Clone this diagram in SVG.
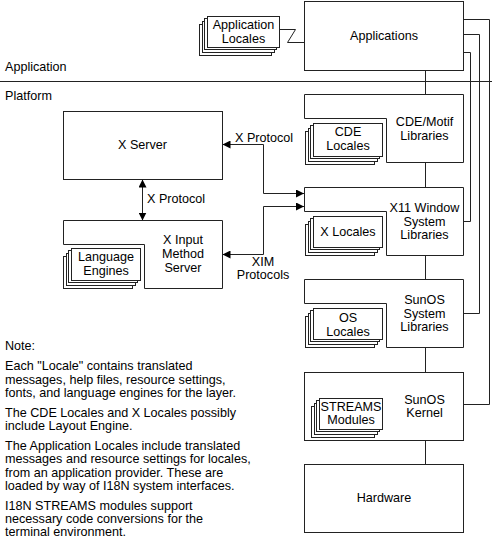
<svg xmlns="http://www.w3.org/2000/svg" width="492" height="538" viewBox="0 0 492 538">
<style>
.box{fill:#fff;stroke:#222;stroke-width:1}
.ln{fill:none;stroke:#222;stroke-width:1}
text{font-family:"Liberation Sans",Arial,sans-serif;font-size:12.6px;fill:#000}
.c{text-anchor:middle}
</style>
<defs>
<marker id="ah" viewBox="0 0 8 8" refX="8" refY="4" markerWidth="8" markerHeight="8" markerUnits="userSpaceOnUse" orient="auto-start-reverse">
<path d="M0,0 L8,4 L0,8 Z" fill="#000"/>
</marker>
</defs>
<rect width="492" height="538" fill="#fff"/>

<g id="layers">
<line class="ln" x1="0" y1="81.5" x2="492" y2="81.5"/>
<text x="5" y="71">Application</text>
<text x="5" y="100">Platform</text>
</g>

<g id="connectors">
<path class="ln" d="M425.5 70.5 V94.5 M425.5 162.5 V187.5 M425.5 255.5 V279.5 M425.5 347.5 V372.5 M425.5 440.5 V464.5"/>
<path class="ln" d="M463.5 19.5 H489.5 V404.5 H463.5"/>
<path class="ln" d="M463.5 34.5 H479.5 V313.5 H463.5"/>
<path class="ln" d="M463.5 52.5 H470.5 V221.5 H463.5"/>
<path class="ln" d="M279.5 29.5 H295.5 L287.5 42.5 H304.5"/>
<path class="ln" d="M222.5 144.5 H263.5 V193.5 H304" marker-start="url(#ah)" marker-end="url(#ah)"/>
<path class="ln" d="M222.5 254.5 H263.5 V206.5 H304" marker-start="url(#ah)" marker-end="url(#ah)"/>
<path class="ln" d="M142.5 179.5 V220.5" marker-start="url(#ah)" marker-end="url(#ah)"/>
<text x="235" y="142">X Protocol</text>
<text x="147" y="203">X Protocol</text>
<text class="c" x="263" y="266">XIM</text>
<text class="c" x="263" y="279">Protocols</text>
</g>

<g id="applications">
<rect class="box" x="304.5" y="1.5" width="159" height="69"/>
<text class="c" x="384" y="40">Applications</text>
</g>

<g id="application-locales">
<rect class="box" x="199.5" y="24.5" width="72" height="31"/>
<rect class="box" x="202.5" y="21.5" width="72" height="31"/>
<rect class="box" x="204.5" y="18.5" width="72" height="31"/>
<rect class="box" x="207.5" y="16.5" width="72" height="31"/>
<text class="c" x="243.5" y="29">Application</text>
<text class="c" x="243.5" y="42.5">Locales</text>
</g>

<g id="cde-motif">
<path class="box" d="M304.5 94.5 H463.5 V162.5 H386.5 V118.5 H304.5 Z"/>
<text class="c" x="424.5" y="126">CDE/Motif</text>
<text class="c" x="424.5" y="139.5">Libraries</text>
</g>

<g id="cde-locales">
<rect class="box" x="305.5" y="131.5" width="69" height="33"/>
<rect class="box" x="308.5" y="128.5" width="69" height="33"/>
<rect class="box" x="310.5" y="125.5" width="69" height="33"/>
<rect class="box" x="313.5" y="123.5" width="69" height="33"/>
<text class="c" x="348" y="136">CDE</text>
<text class="c" x="348" y="150">Locales</text>
</g>

<g id="x11">
<path class="box" d="M304.5 187.5 H463.5 V255.5 H386.5 V211.5 H304.5 Z"/>
<text class="c" x="424.5" y="212">X11 Window</text>
<text class="c" x="424.5" y="225.5">System</text>
<text class="c" x="424.5" y="239">Libraries</text>
</g>

<g id="x-locales">
<rect class="box" x="305.5" y="224.5" width="69" height="31"/>
<rect class="box" x="308.5" y="221.5" width="69" height="31"/>
<rect class="box" x="310.5" y="218.5" width="69" height="31"/>
<rect class="box" x="313.5" y="216.5" width="69" height="31"/>
<text class="c" x="348" y="236">X Locales</text>
</g>

<g id="sunos-libraries">
<path class="box" d="M304.5 279.5 H463.5 V347.5 H386.5 V303.5 H304.5 Z"/>
<text class="c" x="424.5" y="304">SunOS</text>
<text class="c" x="424.5" y="317.5">System</text>
<text class="c" x="424.5" y="331">Libraries</text>
</g>

<g id="os-locales">
<rect class="box" x="305.5" y="316.5" width="69" height="31"/>
<rect class="box" x="308.5" y="313.5" width="69" height="31"/>
<rect class="box" x="310.5" y="310.5" width="69" height="31"/>
<rect class="box" x="313.5" y="308.5" width="69" height="31"/>
<text class="c" x="348" y="322">OS</text>
<text class="c" x="348" y="335.5">Locales</text>
</g>

<g id="sunos-kernel">
<rect class="box" x="304.5" y="372.5" width="159" height="68"/>
<text class="c" x="424.5" y="403.5">SunOS</text>
<text class="c" x="424.5" y="417">Kernel</text>
</g>

<g id="streams-modules">
<rect class="box" x="311.5" y="406.5" width="63" height="31"/>
<rect class="box" x="314.5" y="403.5" width="63" height="31"/>
<rect class="box" x="316.5" y="400.5" width="63" height="31"/>
<rect class="box" x="319.5" y="398.5" width="63" height="31"/>
<text class="c" x="351" y="410.5">STREAMS</text>
<text class="c" x="351" y="424">Modules</text>
</g>

<g id="hardware">
<rect class="box" x="304.5" y="464.5" width="159" height="68"/>
<text class="c" x="384" y="502">Hardware</text>
</g>

<g id="x-server">
<rect class="box" x="63.5" y="111.5" width="159" height="68"/>
<text class="c" x="142.5" y="149">X Server</text>
</g>

<g id="xim-server">
<path class="box" d="M63.5 220.5 H222.5 V288.5 H144.5 V244.5 H63.5 Z"/>
<text class="c" x="183" y="244">X Input</text>
<text class="c" x="183" y="258">Method</text>
<text class="c" x="183" y="272">Server</text>
</g>

<g id="language-engines">
<rect class="box" x="63.5" y="256.5" width="69" height="32"/>
<rect class="box" x="66.5" y="253.5" width="69" height="32"/>
<rect class="box" x="68.5" y="250.5" width="69" height="32"/>
<rect class="box" x="71.5" y="248.5" width="69" height="32"/>
<text class="c" x="106" y="261">Language</text>
<text class="c" x="106" y="275">Engines</text>
</g>

<g id="notes">
<text x="5" y="350">Note:</text>
<text x="5" y="370">Each "Locale" contains translated</text>
<text x="5" y="383.5">messages, help files, resource settings,</text>
<text x="5" y="397">fonts, and language engines for the layer.</text>
<text x="5" y="416.5">The CDE Locales and X Locales possibly</text>
<text x="5" y="430">include Layout Engine.</text>
<text x="5" y="449.5">The Application Locales include translated</text>
<text x="5" y="463">messages and resource settings for locales,</text>
<text x="5" y="476.5">from an application provider. These are</text>
<text x="5" y="490">loaded by way of I18N system interfaces.</text>
<text x="5" y="509.5">I18N STREAMS modules support</text>
<text x="5" y="523">necessary code conversions for the</text>
<text x="5" y="536">terminal environment.</text>
</g>
</svg>
